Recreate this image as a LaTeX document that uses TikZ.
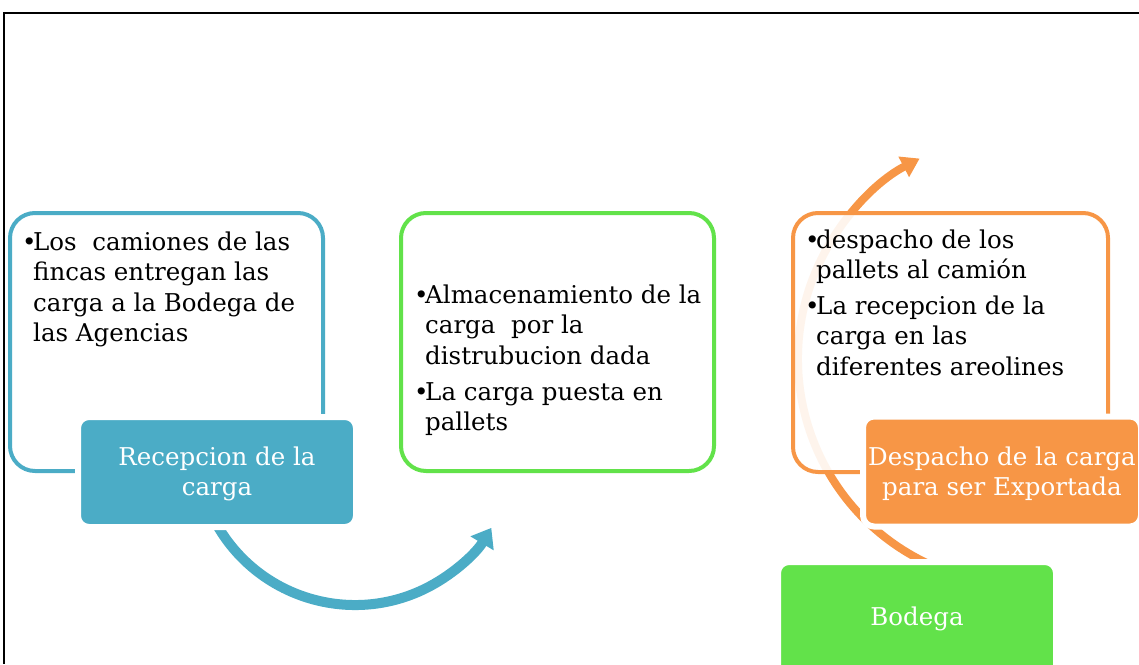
\documentclass[tikz,border=0pt]{standalone}
\usepackage{fontspec}
\setmainfont{DejaVu Serif}
\usetikzlibrary{arrows.meta}
\definecolor{cblue}{HTML}{4BACC6}
\definecolor{corange}{HTML}{F79646}
\definecolor{cgreen}{HTML}{62E24A}
\newcommand{\bul}{\makebox[11pt][l]{\textbullet}}
\newcommand{\ind}{\hspace*{11pt}}
\tikzset{
  outlinebox/.style={rounded corners=25pt, line width=4pt, fill=white, inner sep=0pt, outer sep=0pt, minimum width=313pt, minimum height=258pt, anchor=north west},
  fillbox/.style={rounded corners=11pt, draw=white, line width=6pt, inner sep=0pt, outer sep=0pt, minimum width=278pt, minimum height=110pt},
  listtext/.style={anchor=base west, inner sep=0pt, text=black},
  boxtext/.style={anchor=base, inner sep=0pt, text=white},
  arcarrow/.style={-{Triangle[length=18pt,width=26pt]}},
}
\begin{document}
\begin{tikzpicture}[x=1pt, y=-1pt, font=\fontsize{24.5}{30.5}\selectfont]
\clip (0,0) rectangle (1139,664);
\useasboundingbox (0,0) rectangle (1139,664);
% frame
\coordinate (fr1) at (1139,13);
\coordinate (fr2) at (4,13);
\coordinate (fr3) at (4,664);
\draw[line width=2pt] (fr1) -- (fr2) -- (fr3);
% outline boxes
\node[outlinebox, draw=cblue] (o1) at (10,213) {};
\node[outlinebox, draw=cgreen] (o2) at (401,213) {};
% blue arc
\coordinate (c1) at (355,446);
\draw[cblue, line width=10pt, arcarrow] (c1) ++(152:159) arc[start angle=152, end angle=31, radius=159];
% blue filled box
\node[fillbox, fill=cblue] (f1) at (217,472) {};
% orange arc
\coordinate (c2) at (1024,359);
\draw[corange, line width=8pt, -{Triangle[length=18pt,width=22pt]}] (c2) ++(115:226) arc[start angle=115, end angle=242.5, radius=226];
% orange outline box (semi transparent)
\node[outlinebox, draw=corange, fill opacity=0.9, minimum width=315pt, minimum height=259pt] (o3) at (793,213) {};
% orange filled box
\node[fillbox, fill=corange] (f3) at (1002,471.5) {};
% green filled box
\node[fillbox, fill=cgreen, minimum height=140pt] (f4) at (917,632) {};
% texts
\node[listtext] (t1) at (22,250) {\begin{tabular}[t]{@{}l@{}}
\bul Los\ \ camiones de las\\
\ind fincas entregan las\\
\ind carga a la Bodega de\\
\ind las Agencias
\end{tabular}};
\node[listtext] (t2) at (414,303) {\begin{tabular}[t]{@{}l@{}}
\bul Almacenamiento de la\\
\ind carga\ \ por la\\
\ind distrubucion dada\\[5.5pt]
\bul La carga puesta en\\
\ind pallets
\end{tabular}};
\node[listtext] (t3) at (805,248) {\begin{tabular}[t]{@{}l@{}}
\bul despacho de los\\
\ind pallets al camión\\[5pt]
\bul La recepcion de la\\
\ind carga en las\\
\ind diferentes areolines
\end{tabular}};
\node[boxtext] (l1) at (217,465) {\begin{tabular}[t]{@{}c@{}}Recepcion de la\\carga\end{tabular}};
\node[boxtext] (l3) at (1002,465) {\begin{tabular}[t]{@{}c@{}}Despacho de la carga\\para ser Exportada\end{tabular}};
\node[boxtext] (l4) at (917,625) {Bodega};
\end{tikzpicture}
\end{document}
